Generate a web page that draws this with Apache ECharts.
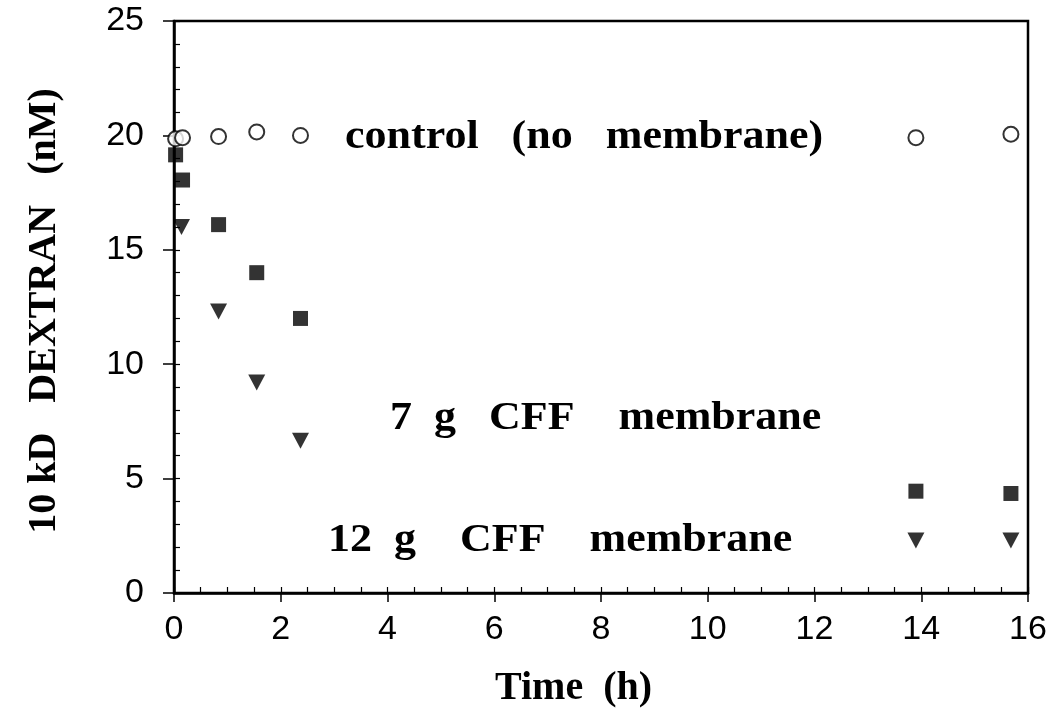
<!DOCTYPE html>
<html><head><meta charset="utf-8">
<script src="https://cdn.jsdelivr.net/npm/echarts@6/dist/echarts.min.js"></script>
<style>html,body{margin:0;padding:0;background:#fff}#c{width:1053px;height:717px}</style>
</head><body><div id="c"></div>
<script>
const xTicks = [0, 2, 4, 6, 8, 10, 12, 14, 16];
const yTicks = [0, 5, 10, 15, 20, 25];
const controlData = [[0.03,19.85],[0.16,19.9],[0.835,19.95],[1.55,20.15],[2.37,20.0],[13.9,19.9],[15.68,20.05]];
const cff7Data = [[0.03,19.15],[0.16,18.05],[0.835,16.1],[1.55,14.0],[2.37,12.0],[13.9,4.45],[15.68,4.35]];
const cff12Data = [[0.14,16.0],[0.835,12.3],[1.55,9.2],[2.37,6.65],[13.9,2.3],[15.68,2.3]];
const labels = ['control   (no   membrane)', '7  g   CFF    membrane', '12  g    CFF    membrane'];
const xTitle = 'Time  (h)';
const yTitle = '10 kD   DEXTRAN   (nM)';

const chart = echarts.init(document.getElementById('c'));
const sans = '"Liberation Sans", Arial, sans-serif';
const serif = '"Liberation Serif", "Times New Roman", serif';
chart.setOption({
  animation:false,
  backgroundColor:'#fff',
  grid: {left:174, right:25, top:21, bottom:124, show:true, borderColor:'#000', borderWidth:2.5, backgroundColor:'transparent'},
  xAxis: [{
    type:'value', min:xTicks[0], max:xTicks[xTicks.length-1], interval:2,
    axisLine:{show:true, onZero:false, lineStyle:{color:'#000', width:2.5}},
    axisTick:{show:true, inside:false, length:9, lineStyle:{color:'#000', width:1.5}},
    axisLabel:{color:'#000', fontFamily:sans, fontSize:34, margin:20},
    splitLine:{show:false}
  },{
    type:'value', position:'bottom', min:0, max:16, interval:0.5,
    axisLine:{show:false}, axisLabel:{show:false}, splitLine:{show:false},
    axisTick:{show:true, inside:true, length:6, lineStyle:{color:'#000', width:1.2}}
  }],
  yAxis: [{
    type:'value', min:yTicks[0], max:yTicks[yTicks.length-1], interval:5,
    axisLine:{show:true, onZero:false, lineStyle:{color:'#000', width:2.5}},
    axisTick:{show:true, inside:false, length:11, lineStyle:{color:'#000', width:1.5}},
    axisLabel:{color:'#000', fontFamily:sans, fontSize:34, margin:30},
    splitLine:{show:false}
  },{
    type:'value', position:'left', min:0, max:25, interval:1,
    axisLine:{show:false}, axisLabel:{show:false}, splitLine:{show:false},
    axisTick:{show:true, inside:true, length:6, lineStyle:{color:'#000', width:1.2}}
  }],
  series: [{
    type:'scatter', data:controlData, symbol:'circle', symbolSize:15,
    itemStyle:{color:'#fff', borderColor:'#000', borderWidth:2}, z:3
  },{
    type:'scatter', data:cff7Data, symbol:'rect', symbolSize:15,
    itemStyle:{color:'#000'}, z:2
  },{
    type:'scatter', data:cff12Data, symbol:'triangle', symbolRotate:180, symbolSize:[17,16],
    itemStyle:{color:'#000'}, z:2
  }],
  graphic: [
    {type:'text', x:345, y:138, scaleX:1.1, style:{text:labels[0], font:'bold 40px ' + serif, fill:'#000', verticalAlign:'middle'}},
    {type:'text', x:390, y:419, scaleX:1.1, style:{text:labels[1], font:'bold 40px ' + serif, fill:'#000', verticalAlign:'middle'}},
    {type:'text', x:328, y:541, scaleX:1.1, style:{text:labels[2], font:'bold 40px ' + serif, fill:'#000', verticalAlign:'middle'}},
    {type:'text', x:495, y:689, scaleX:1.0, style:{text:xTitle, font:'bold 40px ' + serif, fill:'#000', verticalAlign:'middle'}},
    {type:'text', x:45, y:311, rotation:Math.PI/2, style:{text:yTitle, font:'bold 40px ' + serif, fill:'#000', align:'center', verticalAlign:'middle'}}
  ]
});
</script></body></html>
